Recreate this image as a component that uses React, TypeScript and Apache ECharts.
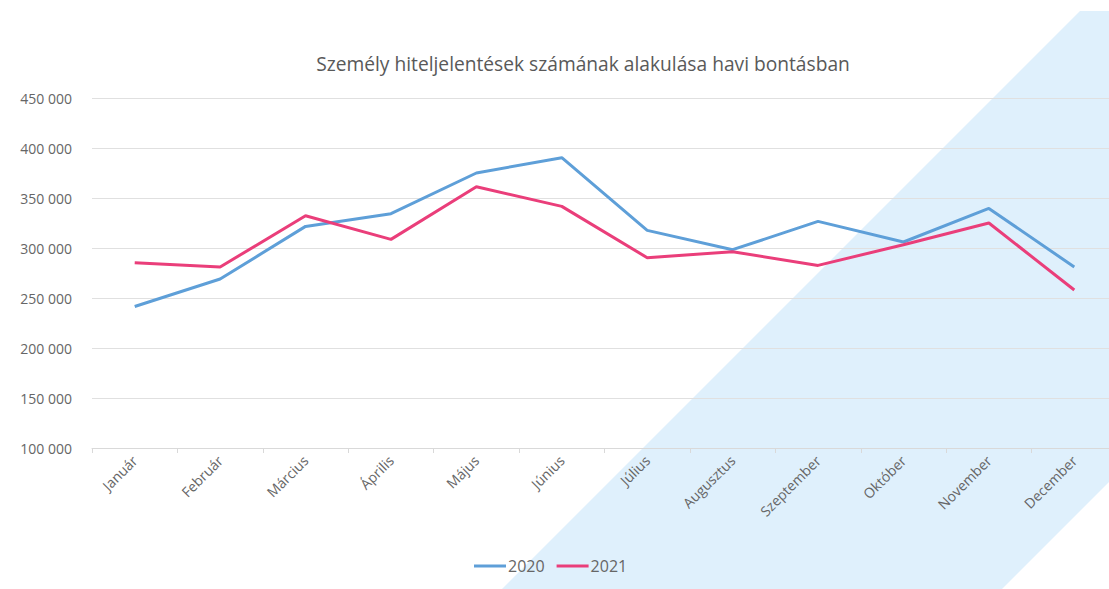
import React, { useEffect, useRef } from "react";
import * as echarts from "echarts";

const months = ["Január", "Február", "Március", "Április", "Május", "Június", "Július", "Augusztus", "Szeptember", "Október", "November", "December"];
const series2020 = [241500, 269000, 321600, 334300, 375000, 390300, 317600, 298300, 326600, 306000, 339600, 281000];
const series2021 = [285300, 281000, 332300, 308600, 361300, 341600, 290300, 296300, 282600, 303300, 325000, 258000];
const title = "Személy hiteljelentések számának alakulása havi bontásban";

const FONT = "'Open Sans', sans-serif";

export default function App() {
  const ref = useRef<HTMLDivElement>(null);
  useEffect(() => {
    document.body.style.margin = "0";
    document.body.style.overflow = "hidden";
    const chart = echarts.init(ref.current!, undefined, { renderer: "svg" });
    chart.setOption({
      animation: false,
      backgroundColor: "#ffffff",
      graphic: [
        {
          type: "polygon",
          z: -10,
          silent: true,
          shape: { points: [[502, 589], [1080, 11], [1109, 11], [1109, 482], [1002, 589]] },
          style: { fill: "#dff0fc" },
        },
        {
          type: "rect",
          z: -9,
          silent: true,
          shape: { x: 1109, y: 0, width: 20, height: 589 },
          style: { fill: "#ffffff" },
        },
      ],
      title: {
        text: title,
        left: 578,
        top: 49,
        textAlign: "center",
        textStyle: { fontFamily: FONT, fontSize: 19.2, fontWeight: "normal", color: "#595959" },
      },
      legend: {
        bottom: 15,
        left: 474,
        padding: 0,
        orient: "horizontal",
        itemWidth: 32,
        itemHeight: 3,
        itemGap: 12,
        icon: "rect",
        textStyle: { fontFamily: FONT, fontSize: 16, color: "#666", padding: [0, 0, 0, -3] },
        data: ["2020", "2021"],
      },
      grid: { left: 92, right: 0, top: 98, bottom: 141 },
      xAxis: {
        type: "category",
        data: months,
        boundaryGap: true,
        axisLine: { lineStyle: { color: "#d9d9d9" } },
        axisTick: { show: true, length: 5, lineStyle: { color: "#d9d9d9" } },
        axisLabel: { rotate: 45, fontFamily: FONT, fontSize: 14, color: "#666", margin: 10 },
      },
      yAxis: {
        type: "value",
        min: 100000,
        max: 450000,
        interval: 50000,
        axisLine: { show: false },
        axisTick: { show: false },
        splitLine: { lineStyle: { color: "#e0e0e0" } },
        axisLabel: {
          fontFamily: FONT,
          fontSize: 14,
          color: "#666",
          margin: 20,
          formatter: (v: number) => {
            const s = String(v);
            return s.replace(/\B(?=(\d{3})+(?!\d))/g, " ");
          },
        },
      },
      series: [
        {
          name: "2020",
          type: "line",
          data: series2020,
          symbol: "none",
          lineStyle: { width: 3, color: "#5e9fd8" },
          itemStyle: { color: "#5e9fd8" },
        },
        {
          name: "2021",
          type: "line",
          data: series2021,
          symbol: "none",
          lineStyle: { width: 3, color: "#ea3e7a" },
          itemStyle: { color: "#ea3e7a" },
        },
      ],
    });
    return () => chart.dispose();
  }, []);
  return <div ref={ref} style={{ width: 1117, height: 589 }} />;
}
